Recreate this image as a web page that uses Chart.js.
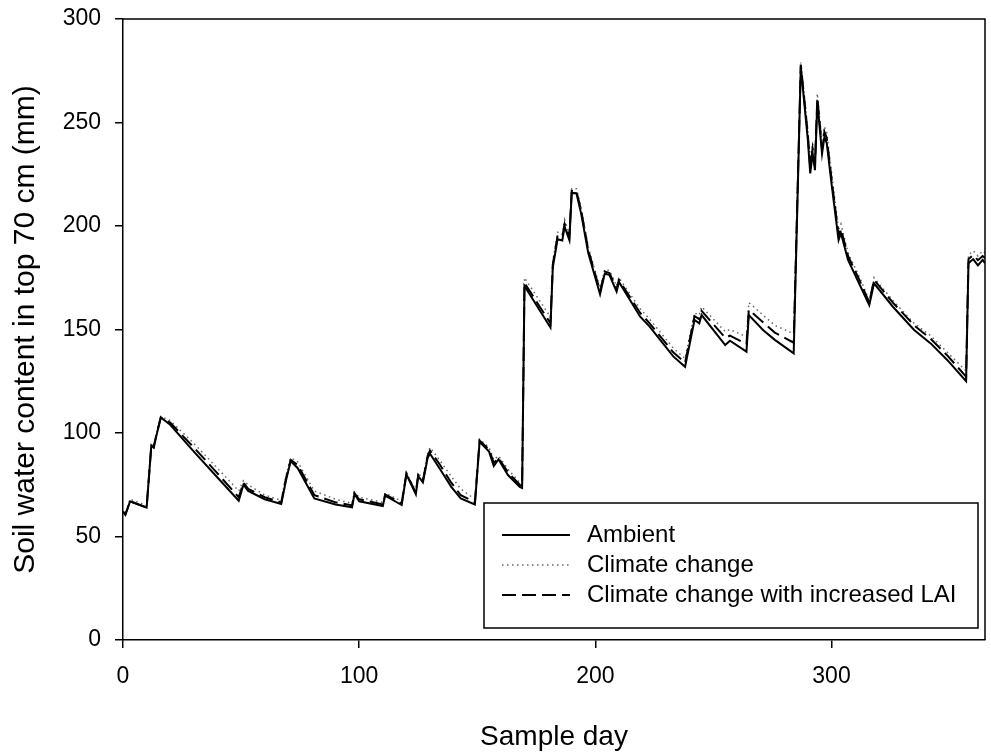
<!DOCTYPE html>
<html>
<head>
<meta charset="utf-8">
<script src="https://cdn.jsdelivr.net/npm/chart.js@4.4.1/dist/chart.umd.min.js"></script>
<style>
  html, body { margin: 0; padding: 0; background: #fff; }
  #wrap { width: 991px; height: 754px; }
</style>
</head>
<body>
<div id="wrap"><canvas id="soil-chart" width="991" height="754"></canvas></div>
<script>
// Sample days (x) and soil water in top 70 cm (mm) for each scenario
const days = [0, 1, 3, 10, 12, 13, 14, 16, 20, 30, 40, 49, 51, 53, 60, 67, 69, 71, 74, 81,
  90, 97, 98, 100, 110, 111, 118, 120, 124, 125, 127, 129, 130, 134, 139, 143, 149, 151, 155, 157,
  159, 163, 168, 169, 170, 181, 182, 184, 186, 187, 189, 190, 192, 194, 197, 202, 204, 206, 209, 210,
  219, 223, 233, 238, 242, 244, 245, 255, 257, 264, 265, 271, 276, 284, 287, 290, 291, 292, 293, 294,
  296, 297, 298, 300, 303, 304, 307, 312, 316, 318, 326, 335, 342, 349, 357, 358, 360, 362, 364, 365];

const ambient = [62, 60.5, 67, 64, 94, 93, 98, 107.5, 104, 91, 78.5, 67.3, 75, 72, 68, 65.7, 77, 86.5, 83, 68.4,
  65.5, 64.1, 70.5, 67, 64.7, 69.7, 65.2, 80, 70.4, 79.2, 76.2, 88, 90, 83, 74, 68.4, 65.5, 95.8, 91, 84,
  87.3, 79.7, 74, 73.5, 171, 151, 180, 193.6, 193, 199.7, 193.2, 216, 215.8, 206, 187, 167, 177, 176.3, 168.3, 173,
  156.2, 151.4, 137, 132, 154.6, 153, 157, 142.5, 144.6, 139.3, 157, 149.8, 145, 138.5, 277, 241.5, 225.4, 235, 227, 260,
  235, 243, 240, 220.6, 193.2, 196.5, 183.6, 171.5, 161.8, 172.3, 161, 149.8, 143.3, 135.3, 125, 182, 184, 181, 183.6, 182];

const climate = [62, 61, 68, 65, 95, 94, 99, 108, 106, 95, 83, 72, 77, 75, 70, 67.5, 79, 88, 86, 72,
  68, 66, 71.5, 69, 66.5, 71, 67, 81, 72, 80.5, 78, 90, 93, 87, 79, 73, 68, 97, 93, 87,
  89, 82.5, 76, 75, 175, 156, 183, 197, 196, 203, 196, 218, 218, 209, 190, 170, 179, 178.5, 171, 175,
  160, 155, 141, 136, 158, 157, 161, 149, 150, 146.5, 163, 157, 152, 148, 279, 246, 231, 240, 232, 264,
  240, 248, 245, 226, 198, 201, 187, 175, 164, 175, 164, 153, 147, 139, 130, 186, 188, 185.5, 188, 187];

const increasedLai = [62, 60.5, 67, 64, 94, 93, 98.5, 107.5, 105, 93, 80.5, 69, 76, 73, 69, 66.5, 78, 87, 84.5, 70,
  66.5, 65, 71, 68, 65.5, 70.3, 66, 80.5, 71, 79.8, 77, 89, 91.5, 85, 76, 70, 66.5, 96.3, 92, 85.5,
  88, 81, 75, 74.3, 172.5, 153, 181.5, 195, 194.5, 201, 194.5, 217, 216.8, 207.5, 188.5, 168.5, 178, 177.3, 169.5, 174,
  158, 153, 139, 134, 156.5, 155, 159, 146, 147, 143, 159.5, 153.5, 148.5, 143.6, 278, 244, 228, 237.5, 229.5, 262,
  237.5, 245.5, 242.5, 223, 195.5, 198.5, 185.5, 173.5, 163, 174, 163, 152, 145.5, 137.5, 127.2, 184, 186, 183.5, 185.5, 184.5];

const yTicks = [0, 50, 100, 150, 200, 250, 300];
const xTicks = [0, 100, 200, 300];

const FONT = "Arial, 'Liberation Sans', sans-serif";

function toPoints(ys) {
  return days.map((d, i) => ({ x: d, y: ys[i] }));
}

// Box round the plot (top and right edges) plus the boxed legend in the lower right
const framePlugin = {
  id: 'frame',
  afterDatasetsDraw(chart) {
    const { ctx, chartArea: a } = chart;
    ctx.save();
    ctx.strokeStyle = '#000';
    ctx.lineWidth = 1.5;
    ctx.beginPath();
    ctx.moveTo(a.left, a.top);
    ctx.lineTo(a.right, a.top);
    ctx.lineTo(a.right, a.bottom);
    ctx.stroke();

    // legend box
    const bx = a.right - 501, by = a.bottom - 137, bw = 494, bh = 125;
    ctx.fillStyle = '#fff';
    ctx.fillRect(bx, by, bw, bh);
    ctx.lineWidth = 1.5;
    ctx.strokeRect(bx, by, bw, bh);

    ctx.font = '24px ' + FONT;
    ctx.textBaseline = 'middle';
    ctx.fillStyle = '#000';
    chart.data.datasets.forEach((ds, i) => {
      const y = by + 32 + i * 30;
      ctx.save();
      ctx.strokeStyle = ds.borderColor;
      ctx.lineWidth = ds.borderWidth;
      ctx.setLineDash(ds.borderDash || []);
      ctx.beginPath();
      ctx.moveTo(bx + 18, y);
      ctx.lineTo(bx + 86, y);
      ctx.stroke();
      ctx.restore();
      ctx.fillText(ds.label, bx + 103, y);
    });
    ctx.restore();
  }
};

const ctx = document.getElementById('soil-chart').getContext('2d');

new Chart(ctx, {
  type: 'line',
  data: {
    datasets: [
      {
        label: 'Ambient',
        data: toPoints(ambient),
        borderColor: '#000',
        borderWidth: 2,
        pointRadius: 0,
        fill: false,
        order: 1
      },
      {
        label: 'Climate change',
        data: toPoints(climate),
        borderColor: '#666',
        borderWidth: 1.5,
        borderDash: [1.5, 3.5],
        pointRadius: 0,
        fill: false,
        order: 3
      },
      {
        label: 'Climate change with increased LAI',
        data: toPoints(increasedLai),
        borderColor: '#000',
        borderWidth: 2,
        borderDash: [14, 6],
        pointRadius: 0,
        fill: false,
        order: 2
      }
    ]
  },
  options: {
    responsive: false,
    animation: false,
    layout: { padding: { left: 0, top: 19, right: 6, bottom: 0 } },
    plugins: { legend: { display: false }, tooltip: { enabled: false } },
    scales: {
      x: {
        type: 'linear',
        min: 0,
        max: 365,
        afterFit: (s) => { s.height = 114; },
        afterBuildTicks: (s) => { s.ticks = xTicks.map(v => ({ value: v })); },
        ticks: { color: '#000', font: { family: FONT, size: 23 }, padding: 15, includeBounds: false },
        grid: { display: true, drawOnChartArea: false, drawTicks: true, tickLength: 8, color: '#000', lineWidth: 1.5 },
        border: { display: true, color: '#000', width: 1.5 },
        title: { display: true, text: 'Sample day', color: '#000', font: { family: FONT, size: 28 }, padding: { top: 0, bottom: 0 } }
      },
      y: {
        type: 'linear',
        min: 0,
        max: 300,
        // fixed width; drop the label overhang so the plot top stays at the layout padding
        afterFit: (s) => { s.width = 123; s.paddingTop = 0; s.paddingBottom = 0; },
        afterBuildTicks: (s) => { s.ticks = yTicks.map(v => ({ value: v })); },
        ticks: { color: '#000', font: { family: FONT, size: 23 }, padding: 14 },
        grid: { display: true, drawOnChartArea: false, drawTicks: true, tickLength: 8, color: '#000', lineWidth: 1.5 },
        border: { display: true, color: '#000', width: 1.5 },
        title: { display: true, text: 'Soil water content in top 70 cm (mm)', color: '#000', font: { family: FONT, size: 30 }, padding: { top: 8, bottom: 0 } }
      }
    }
  },
  plugins: [framePlugin]
});
</script>
</body>
</html>
